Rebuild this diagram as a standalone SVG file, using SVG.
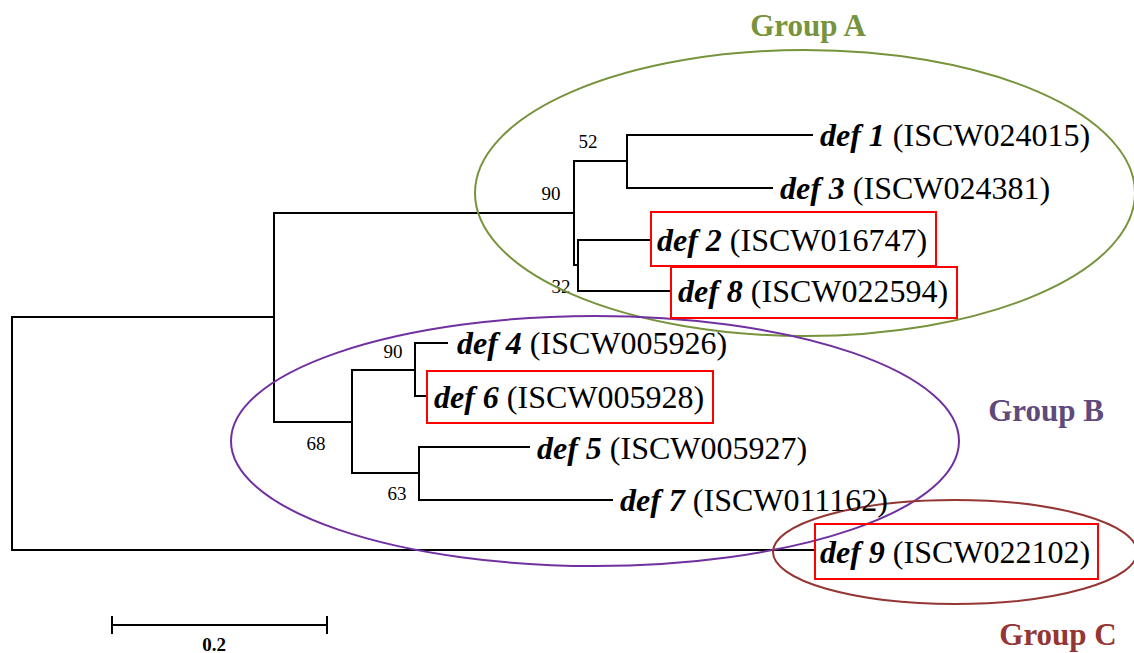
<svg xmlns="http://www.w3.org/2000/svg" width="1134" height="653" viewBox="0 0 1134 653">
<style>
.br{fill:none;stroke:#000;stroke-width:2;stroke-linecap:square}
.lab{font-family:"Liberation Serif",serif;font-size:32px;fill:#000}
.g{font-family:"Liberation Serif",serif;font-weight:bold;font-style:italic}
.bs{font-family:"Liberation Serif",serif;font-size:19px;fill:#000;text-anchor:middle}
.box{fill:none;stroke:#FF0000;stroke-width:2}
.grp{font-family:"Liberation Serif",serif;font-size:31px;font-weight:bold;text-anchor:middle}
</style>
<rect width="1134" height="653" fill="#fff"/>
<g id="connectors">
<path class="br" d="M274,317 H12 V550 H813"/>
<path class="br" d="M574,213 H274 V422 H352"/>
<path class="br" d="M627,161 H574 V265 H578"/>
<path class="br" d="M812,135 H627 V188 H772"/>
<path class="br" d="M651,240 H578 V291 H671"/>
<path class="br" d="M415,370 H352 V473 H419"/>
<path class="br" d="M447,343 H415 V396 H427"/>
<path class="br" d="M529,447 H419 V500 H612"/>
<path class="br" d="M112,625 H327 M112,617 V633 M327,617 V633" stroke-linecap="butt"/>
</g>
<g id="bootstrap">
<text class="bs" x="588" y="148">52</text>
<text class="bs" x="551" y="200">90</text>
<text class="bs" x="561" y="293">32</text>
<text class="bs" x="393" y="358">90</text>
<text class="bs" x="316" y="450">68</text>
<text class="bs" x="397" y="500">63</text>
</g>
<g id="groupA">
<ellipse cx="805" cy="193" rx="330" ry="143" fill="none" stroke="#77933C" stroke-width="2"/>
<text class="grp" x="808" y="36" fill="#77933C">Group A</text>
</g>
<g id="groupB">
<ellipse cx="595" cy="441" rx="364" ry="125" fill="none" stroke="#7030A0" stroke-width="2"/>
<text class="grp" x="1046" y="421" fill="#604A7B">Group B</text>
</g>
<g id="groupC">
<ellipse cx="955" cy="552" rx="182" ry="52" fill="none" stroke="#943634" stroke-width="2"/>
<text class="grp" x="1058" y="645" fill="#943634">Group C</text>
</g>
<g id="def1"><text class="lab" x="820" y="146"><tspan class="g">def 1</tspan> (ISCW024015)</text></g>
<g id="def3"><text class="lab" x="780" y="199"><tspan class="g">def 3</tspan> (ISCW024381)</text></g>
<g id="def2"><rect class="box" x="651" y="212" width="285" height="54"/><text class="lab" x="657" y="251"><tspan class="g">def 2</tspan> (ISCW016747)</text></g>
<g id="def8"><rect class="box" x="671" y="267" width="286" height="51"/><text class="lab" x="678" y="302"><tspan class="g">def 8</tspan> (ISCW022594)</text></g>
<g id="def4"><text class="lab" x="457" y="354"><tspan class="g">def 4</tspan> (ISCW005926)</text></g>
<g id="def6"><rect class="box" x="427" y="371" width="286" height="52"/><text class="lab" x="434" y="408"><tspan class="g">def 6</tspan> (ISCW005928)</text></g>
<g id="def5"><text class="lab" x="537" y="459"><tspan class="g">def 5</tspan> (ISCW005927)</text></g>
<g id="def7"><text class="lab" x="620" y="511"><tspan class="g">def 7</tspan> (ISCW011162)</text></g>
<g id="def9"><rect class="box" x="815" y="524" width="283" height="55"/><text class="lab" x="820" y="563"><tspan class="g">def 9</tspan> (ISCW022102)</text></g>
<g id="scale"><text x="214" y="651" font-family="Liberation Serif, serif" font-size="19" font-weight="bold" text-anchor="middle">0.2</text></g>
</svg>
